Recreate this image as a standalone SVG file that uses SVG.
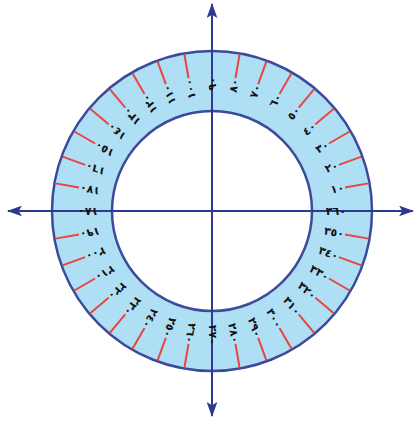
<svg xmlns="http://www.w3.org/2000/svg" xmlns:xlink="http://www.w3.org/1999/xlink" width="417" height="422" viewBox="0 0 417 422">
<style>
.ring{fill:#afdff4;stroke:#3b4a9b;stroke-width:2.5}
.hole{fill:#ffffff;stroke:#3b4a9b;stroke-width:2.5}
.tick{stroke:#e8453c;stroke-width:2}
.axis{stroke:#2e3a92;stroke-width:2;fill:none}
.lbl{font-family:"DejaVu Sans",sans-serif;font-size:11px;font-weight:bold;fill:#111;text-anchor:end;dominant-baseline:central}
</style>
<defs>
<marker id="arr" viewBox="0 0 14 10" refX="13" refY="5" markerWidth="7.5" markerHeight="5.5" markerUnits="strokeWidth" orient="auto-start-reverse">
<path d="M0,0 L14,5 L0,10 L3,5 Z" fill="#2e3a92"/>
</marker>
<line id="t" class="tick" x1="347" y1="211" x2="371" y2="211"/>
</defs>
<g id="ring">
<circle class="ring" cx="212" cy="211" r="160"/>
<circle class="hole" cx="212" cy="211" r="100"/>
</g>
<g id="ticks">
<use xlink:href="#t"/>
<use xlink:href="#t" transform="rotate(-10 212 211)"/>
<use xlink:href="#t" transform="rotate(-20 212 211)"/>
<use xlink:href="#t" transform="rotate(-30 212 211)"/>
<use xlink:href="#t" transform="rotate(-40 212 211)"/>
<use xlink:href="#t" transform="rotate(-50 212 211)"/>
<use xlink:href="#t" transform="rotate(-60 212 211)"/>
<use xlink:href="#t" transform="rotate(-70 212 211)"/>
<use xlink:href="#t" transform="rotate(-80 212 211)"/>
<use xlink:href="#t" transform="rotate(-90 212 211)"/>
<use xlink:href="#t" transform="rotate(-100 212 211)"/>
<use xlink:href="#t" transform="rotate(-110 212 211)"/>
<use xlink:href="#t" transform="rotate(-120 212 211)"/>
<use xlink:href="#t" transform="rotate(-130 212 211)"/>
<use xlink:href="#t" transform="rotate(-140 212 211)"/>
<use xlink:href="#t" transform="rotate(-150 212 211)"/>
<use xlink:href="#t" transform="rotate(-160 212 211)"/>
<use xlink:href="#t" transform="rotate(-170 212 211)"/>
<use xlink:href="#t" transform="rotate(-180 212 211)"/>
<use xlink:href="#t" transform="rotate(-190 212 211)"/>
<use xlink:href="#t" transform="rotate(-200 212 211)"/>
<use xlink:href="#t" transform="rotate(-210 212 211)"/>
<use xlink:href="#t" transform="rotate(-220 212 211)"/>
<use xlink:href="#t" transform="rotate(-230 212 211)"/>
<use xlink:href="#t" transform="rotate(-240 212 211)"/>
<use xlink:href="#t" transform="rotate(-250 212 211)"/>
<use xlink:href="#t" transform="rotate(-260 212 211)"/>
<use xlink:href="#t" transform="rotate(-270 212 211)"/>
<use xlink:href="#t" transform="rotate(-280 212 211)"/>
<use xlink:href="#t" transform="rotate(-290 212 211)"/>
<use xlink:href="#t" transform="rotate(-300 212 211)"/>
<use xlink:href="#t" transform="rotate(-310 212 211)"/>
<use xlink:href="#t" transform="rotate(-320 212 211)"/>
<use xlink:href="#t" transform="rotate(-330 212 211)"/>
<use xlink:href="#t" transform="rotate(-340 212 211)"/>
<use xlink:href="#t" transform="rotate(-350 212 211)"/>
</g>
<g id="connectors">
<line class="axis" x1="8" y1="211" x2="413" y2="211" marker-start="url(#arr)" marker-end="url(#arr)"/>
<line class="axis" x1="212" y1="4" x2="212" y2="416" marker-start="url(#arr)" marker-end="url(#arr)"/>
</g>
<g id="labels">
<text class="lbl" x="346" y="211" transform="rotate(-10 212 211)">١٠</text>
<text class="lbl" x="346" y="211" transform="rotate(-20 212 211)">٢٠</text>
<text class="lbl" x="346" y="211" transform="rotate(-30 212 211)">٣٠</text>
<text class="lbl" x="346" y="211" transform="rotate(-40 212 211)">٤٠</text>
<text class="lbl" x="346" y="211" transform="rotate(-50 212 211)">٥٠</text>
<text class="lbl" x="346" y="211" transform="rotate(-60 212 211)">٦٠</text>
<text class="lbl" x="346" y="211" transform="rotate(-70 212 211)">٧٠</text>
<text class="lbl" x="346" y="211" transform="rotate(-80 212 211)">٨٠</text>
<text class="lbl" x="346" y="211" transform="rotate(-90 212 211)">٩٠</text>
<text class="lbl" x="346" y="211" transform="rotate(-100 212 211)">١٠٠</text>
<text class="lbl" x="346" y="211" transform="rotate(-110 212 211)">١١٠</text>
<text class="lbl" x="346" y="211" transform="rotate(-120 212 211)">١٢٠</text>
<text class="lbl" x="346" y="211" transform="rotate(-130 212 211)">١٣٠</text>
<text class="lbl" x="346" y="211" transform="rotate(-140 212 211)">١٤٠</text>
<text class="lbl" x="346" y="211" transform="rotate(-150 212 211)">١٥٠</text>
<text class="lbl" x="346" y="211" transform="rotate(-160 212 211)">١٦٠</text>
<text class="lbl" x="346" y="211" transform="rotate(-170 212 211)">١٧٠</text>
<text class="lbl" x="346" y="211" transform="rotate(-180 212 211)">١٨٠</text>
<text class="lbl" x="346" y="211" transform="rotate(-190 212 211)">١٩٠</text>
<text class="lbl" x="346" y="211" transform="rotate(-200 212 211)">٢٠٠</text>
<text class="lbl" x="346" y="211" transform="rotate(-210 212 211)">٢١٠</text>
<text class="lbl" x="346" y="211" transform="rotate(-220 212 211)">٢٢٠</text>
<text class="lbl" x="346" y="211" transform="rotate(-230 212 211)">٢٣٠</text>
<text class="lbl" x="346" y="211" transform="rotate(-240 212 211)">٢٤٠</text>
<text class="lbl" x="346" y="211" transform="rotate(-250 212 211)">٢٥٠</text>
<text class="lbl" x="346" y="211" transform="rotate(-260 212 211)">٢٦٠</text>
<text class="lbl" x="346" y="211" transform="rotate(-270 212 211)">٢٧٠</text>
<text class="lbl" x="346" y="211" transform="rotate(-280 212 211)">٢٨٠</text>
<text class="lbl" x="346" y="211" transform="rotate(-290 212 211)">٢٩٠</text>
<text class="lbl" x="346" y="211" transform="rotate(-300 212 211)">٣٠٠</text>
<text class="lbl" x="346" y="211" transform="rotate(-310 212 211)">٣١٠</text>
<text class="lbl" x="346" y="211" transform="rotate(-320 212 211)">٣٢٠</text>
<text class="lbl" x="346" y="211" transform="rotate(-330 212 211)">٣٣٠</text>
<text class="lbl" x="346" y="211" transform="rotate(-340 212 211)">٣٤٠</text>
<text class="lbl" x="346" y="211" transform="rotate(-350 212 211)">٣٥٠</text>
<text class="lbl" x="346" y="211">٣٦٠</text>
</g>
</svg>
